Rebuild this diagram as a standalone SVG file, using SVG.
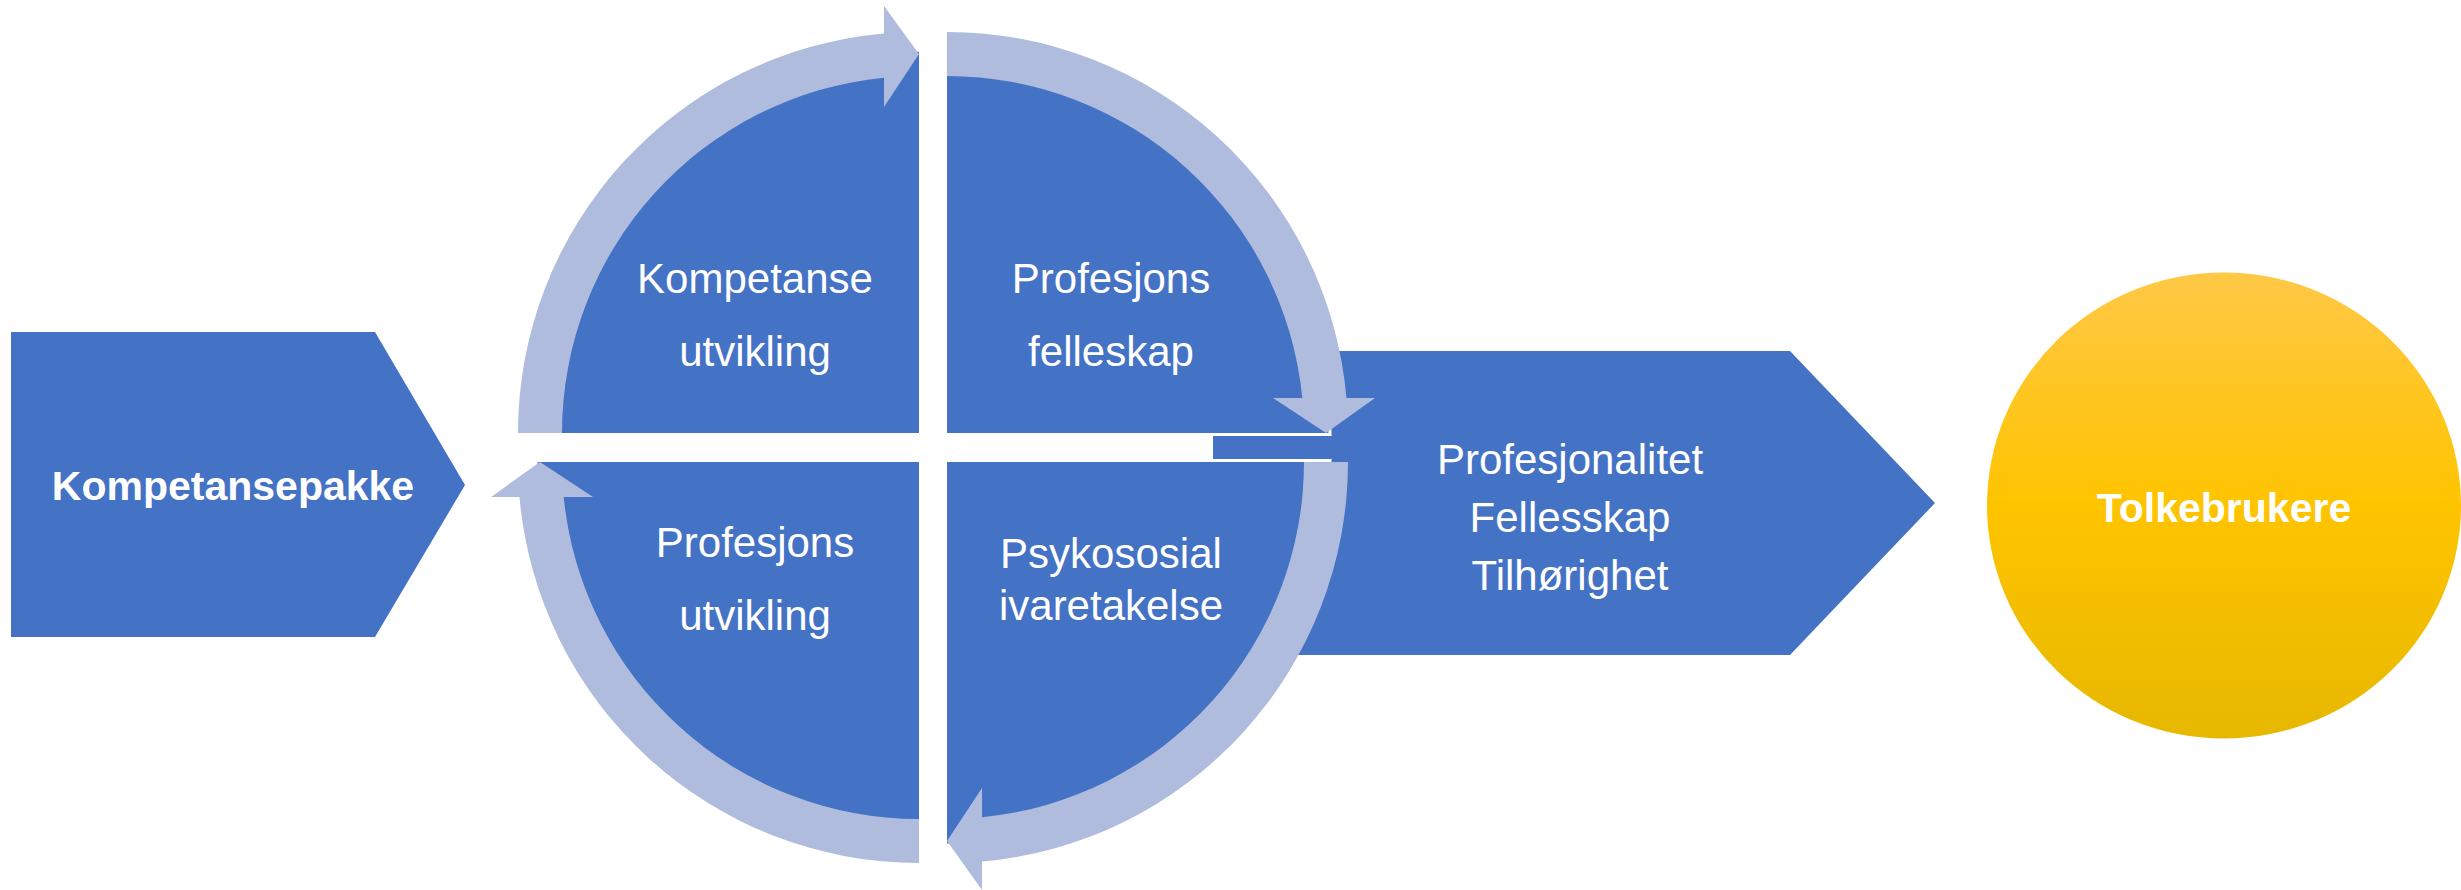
<svg xmlns="http://www.w3.org/2000/svg" width="2461" height="890" viewBox="0 0 2461 890">
  <defs>
    <linearGradient id="gold" x1="0" y1="0" x2="0" y2="1">
      <stop offset="0" stop-color="#FFC846"/>
      <stop offset="0.5" stop-color="#FFC400"/>
      <stop offset="1" stop-color="#E6B800"/>
    </linearGradient>
    <style>
      .blue { fill: #4472C4; }
      .quad { fill: #4472C4; stroke: #FFFFFF; stroke-width: 3; }
      .arc { fill: #AFBCDE; }
      .t { font-family: "Liberation Sans", Arial, sans-serif; font-size: 42px; fill: #FFFFFF; text-anchor: middle; }
      .b { font-weight: bold; font-size: 41px; }
    </style>
  </defs>
  <rect width="2461" height="890" fill="#FFFFFF"/>

  <g id="kompetansepakke">
    <polygon class="blue" points="11,332 375,332 465,485 375,637 11,637"/>
    <text class="t b" x="233" y="500">Kompetansepakke</text>
  </g>

  <g id="resultat">
    <polygon class="blue" points="1213,351 1790,351 1935,503 1790,655 1213,655"/>
    <text class="t" x="1570" y="474">Profesjonalitet</text>
    <text class="t" x="1570" y="532">Fellesskap</text>
    <text class="t" x="1570" y="590">Tilhørighet</text>
  </g>

  <g id="kompetanseutvikling">
    <path class="quad" d="M 920.5 434.5 H 536 A 384.5 384.5 0 0 1 920.5 50 Z"/>
  </g>
  <g id="profesjonsfelleskap">
    <path class="quad" d="M 945.5 434.5 V 50 A 384.5 384.5 0 0 1 1330 434.5 Z"/>
  </g>
  <g id="psykososial">
    <path class="quad" d="M 945.5 460.5 H 1330 A 384.5 384.5 0 0 1 945.5 845 Z"/>
  </g>
  <g id="profesjonsutvikling">
    <path class="quad" d="M 920.5 460.5 V 845 A 384.5 384.5 0 0 1 536 460.5 Z"/>
  </g>

  <g id="connectors">
    <path class="arc" d="M 518 433 A 401 401 0 0 1 884 33.5 L 884 6 L 919 54 L 884 107 L 884 77.7 A 357 357 0 0 0 562 433 Z"/>
    <path class="arc" d="M 947 32 A 401 401 0 0 1 1346.5 398 L 1375 398 L 1326 433 L 1273 398 L 1302.3 398 A 357 357 0 0 0 947 76 Z"/>
    <path class="arc" d="M 1348 462 A 401 401 0 0 1 982 861.5 L 982 890 L 947 841 L 982 788 L 982 817.3 A 357 357 0 0 0 1304 462 Z"/>
    <path class="arc" d="M 919 863 A 401 401 0 0 1 519.5 497 L 491 497 L 540 462 L 593 497 L 563.7 497 A 357 357 0 0 0 919 819 Z"/>
  </g>

  <g id="labels">
    <text class="t" x="755" y="293">Kompetanse</text>
    <text class="t" x="755" y="366">utvikling</text>
    <text class="t" x="1111" y="293">Profesjons</text>
    <text class="t" x="1111" y="366">felleskap</text>
    <text class="t" x="755" y="557">Profesjons</text>
    <text class="t" x="755" y="630">utvikling</text>
    <text class="t" x="1111" y="568">Psykososial</text>
    <text class="t" x="1111" y="620">ivaretakelse</text>
  </g>

  <g id="tolkebrukere">
    <ellipse cx="2224" cy="505.5" rx="237" ry="233" fill="url(#gold)"/>
    <text class="t b" x="2224" y="522">Tolkebrukere</text>
  </g>
</svg>
